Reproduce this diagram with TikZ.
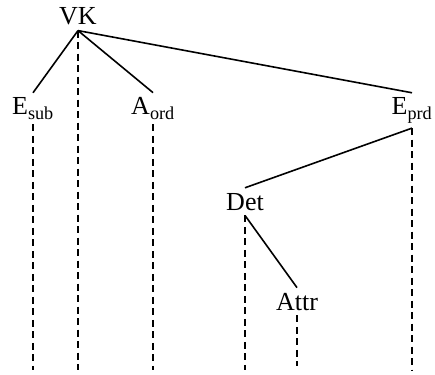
\documentclass[tikz,border=0pt]{standalone}
\usepackage{fontspec}
\setmainfont{Liberation Serif}
\usetikzlibrary{positioning}

\tikzset{
  cat/.style={anchor=base,inner sep=5pt,font=\fontsize{26}{31}\selectfont},
  link/.style={line width=1.6pt},
  proj/.style={line width=1.6pt,dash pattern=on 7pt off 4.5pt}
}

\begin{document}
\begin{tikzpicture}[x=1pt,y=-1pt]
    \useasboundingbox (0,0) rectangle (435,374);
    % words
    \node[cat] (vk) at (78,25) {VK};
    \node[cat] (esub) at (33,115) {E\textsubscript{sub}};
    \node[cat] (aord) at (153,115) {A\textsubscript{ord}};
    \node[cat] (eprd) at (412,115) {E\textsubscript{prd}};
    \node[cat] (det) at (245,210) {Det};
    \node[cat] (attr) at (297,310) {Attr};
    % ends of the projection lines
    \coordinate (vkend) at (78,370);
    \coordinate (esubend) at (33,370);
    \coordinate (aordend) at (153,370);
    \coordinate (eprdend) at (412,370);
    \coordinate (detend) at (245,370);
    \coordinate (attrend) at (297,366);
    % dependencies
    \draw[link] (vk.south) -- (esub.north);
    \draw[link] (vk.south) -- (aord.north);
    \draw[link] (vk.south) -- (eprd.north);
    \draw[link] (eprd.south) -- (det.north);
    \draw[link] (det.south) -- (attr.north);
    % projections
    \draw[proj] (vk.south) -- (vkend);
    \draw[proj] (esub.south) -- (esubend);
    \draw[proj] (aord.south) -- (aordend);
    \draw[proj] (eprd.south) -- (eprdend);
    \draw[proj] (det.south) -- (detend);
    \draw[proj] (attr.south) -- (attrend);
\end{tikzpicture}
\end{document}
